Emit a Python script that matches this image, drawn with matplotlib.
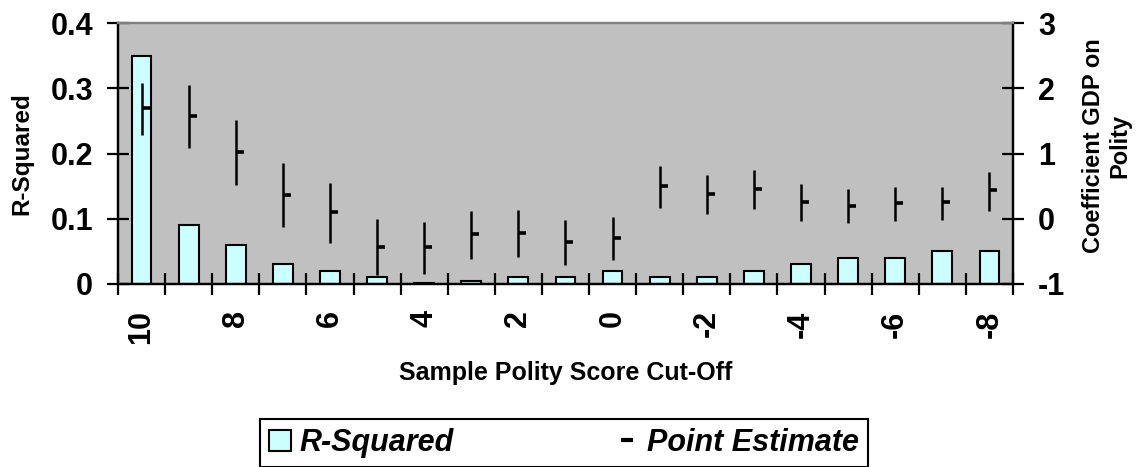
import numpy as np
import matplotlib.pyplot as plt
from matplotlib.path import Path
from matplotlib.patches import Patch
from matplotlib.lines import Line2D

plt.rcParams['font.family'] = ['Liberation Sans', 'DejaVu Sans']
plt.rcParams['font.weight'] = 'bold'
plt.rcParams['axes.labelweight'] = 'bold'
plt.rcParams['axes.unicode_minus'] = False

# polity score cut-offs, one bar / estimate each
cutoffs = [10, 9, 8, 7, 6, 5, 4, 3, 2, 1, 0, -1, -2, -3, -4, -5, -6, -7, -8]
r_squared = [0.35, 0.09, 0.06, 0.03, 0.02, 0.01, 0.001, 0.004, 0.01, 0.01,
             0.02, 0.01, 0.01, 0.02, 0.03, 0.04, 0.04, 0.05, 0.05]
estimate = [1.69, 1.57, 1.03, 0.37, 0.10, -0.43, -0.44, -0.24, -0.22, -0.36,
            -0.30, 0.50, 0.38, 0.45, 0.26, 0.20, 0.24, 0.25, 0.44]
est_high = [2.08, 2.05, 1.52, 0.85, 0.55, 0.00, -0.05, 0.12, 0.13, -0.02,
            0.02, 0.81, 0.67, 0.74, 0.53, 0.46, 0.49, 0.49, 0.72]
est_low = [1.29, 1.08, 0.52, -0.13, -0.37, -0.86, -0.84, -0.62, -0.59, -0.71,
           -0.63, 0.16, 0.07, 0.15, -0.03, -0.07, -0.04, -0.02, 0.12]

x = np.arange(len(cutoffs))

fig = plt.figure(figsize=(11.41, 4.67), dpi=100)
ax = fig.add_axes([0.1034, 0.3919, 0.7844, 0.5588])
ax.set_facecolor('#C0C0C0')
ax.bar(x, r_squared, width=0.42, color='#CCFFFF', edgecolor='black', linewidth=1.5, zorder=2)
ax.set_xlim(-0.5, len(cutoffs) - 0.5)
ax.set_ylim(0, 0.4)
ax.set_yticks([0, 0.1, 0.2, 0.3, 0.4])
ax.set_yticklabels(['0', '0.1', '0.2', '0.3', '0.4'])

ax2 = ax.twinx()
ax2.vlines(x, est_low, est_high, color='black', linewidth=1.8, zorder=3)
tick_mark = Path([(0, 0), (1, 0)], [Path.MOVETO, Path.LINETO])
ax2.plot(x, estimate, ls='none', marker=tick_mark, ms=12, mew=2.6, color='black', zorder=4)
ax2.set_ylim(-1, 3)
ax2.set_yticks([-1, 0, 1, 2, 3])

# x ticks at the category edges, labels every other category
ax.set_xticks(np.arange(len(cutoffs) + 1) - 0.5)
ax.set_xticklabels([])
ax.set_xticks(x[::2], minor=True)
ax.set_xticklabels([str(c) for c in cutoffs[::2]], minor=True, rotation=90)

for a in (ax, ax2):
    for s in a.spines.values():
        s.set_linewidth(1.6)
    a.spines['top'].set_color('#808080')
ax.tick_params(axis='x', which='major', direction='inout', length=16, width=1.6)
ax.tick_params(axis='x', which='minor', length=0, pad=19, labelsize=22)
ax.tick_params(axis='y', direction='inout', length=16, width=1.6, pad=10, labelsize=22)
ax2.tick_params(axis='y', direction='inout', length=16, width=1.6, pad=10, labelsize=22)

ax.set_xlabel('Sample Polity Score Cut-Off', fontsize=18)
ax.xaxis.set_label_coords(0.5, -0.295)
ax.set_ylabel('R-Squared', fontsize=17.5)
ax.yaxis.set_label_coords(-0.095, 0.5)
ax2.set_ylabel('Coefficient GDP on\nPolity', fontsize=17, multialignment='center')
ax2.yaxis.set_label_coords(1.077, 0.53)

handles = [Patch(facecolor='#CCFFFF', edgecolor='black', linewidth=1.5),
           Line2D([], [], ls='none', marker='_', ms=8, mew=3, color='black')]
leg = fig.legend(handles, ['R-Squared', 'Point Estimate'], loc='upper left',
                 bbox_to_anchor=(260 / 1141, 0, 608 / 1141, 1 - 419 / 467),
                 mode='expand', ncol=2, frameon=True,
                 fancybox=False, edgecolor='black', framealpha=1,
                 prop={'weight': 'bold', 'style': 'italic', 'size': 22},
                 handlelength=0.7, handleheight=0.7, handletextpad=0.3,
                 columnspacing=4.6, borderpad=0.3, borderaxespad=0)
leg.get_frame().set_linewidth(1.5)

fig.savefig('out.png', dpi=100)
